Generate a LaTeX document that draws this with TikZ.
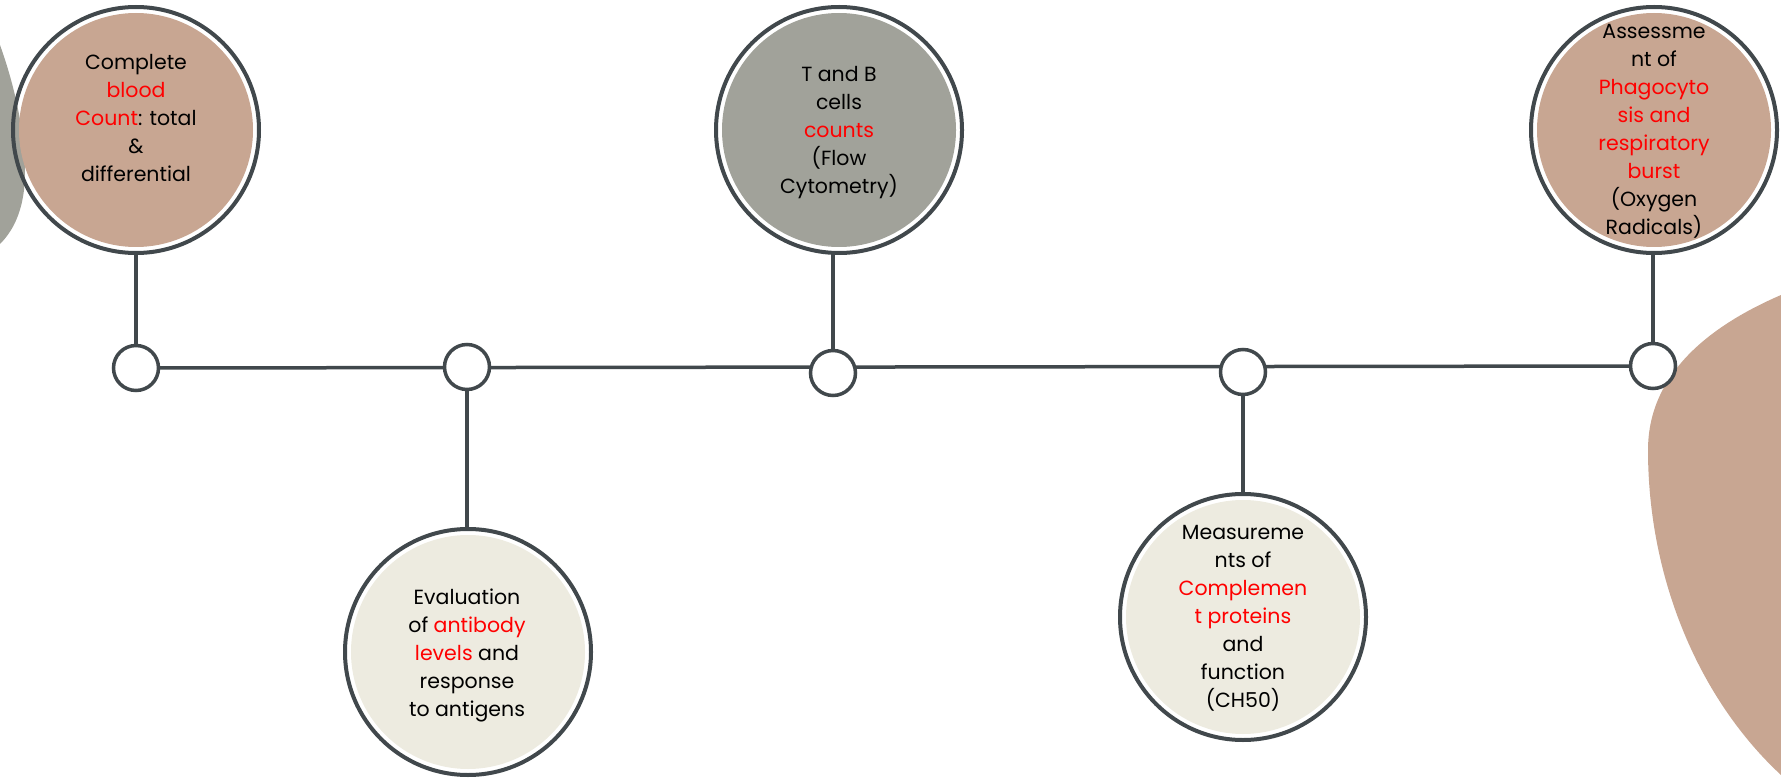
\documentclass[tikz,border=0pt]{standalone}
\usepackage{fontspec}
\setmainfont{Poppins}
\definecolor{ring}{RGB}{65,72,76}
\definecolor{tan}{RGB}{200,166,146}
\definecolor{sage}{RGB}{161,162,154}
\definecolor{cream}{RGB}{237,235,224}
\definecolor{hl}{RGB}{255,0,0}
\tikzset{
  bigcircle/.style={circle, draw=ring, line width=4pt, minimum size=246pt, inner sep=0pt,
    path picture={\fill[#1] (path picture bounding box.center) circle[radius=117pt];}},
  dot/.style={circle, draw=ring, fill=white, line width=3.5pt, minimum size=45pt, inner sep=0pt},
  conn/.style={draw=ring, line width=3.5pt},
  label/.style={align=center, text=black, font=\fontsize{20.5}{28}\selectfont, inner sep=0pt}
}
\newcommand{\hlt}[1]{\textcolor{hl}{#1}}
\begin{document}
\begin{tikzpicture}[x=1pt,y=-1pt]
\useasboundingbox (0,0) rectangle (1781,778);
% background blobs
\fill[sage] (0,45) .. controls (18,95) and (28,150) .. (24,190) .. controls (21,215) and (12,232) .. (0,244) -- cycle;
\fill[tan] (1781,295) .. controls (1700,330) and (1648,380) .. (1648,450) .. controls (1648,580) and (1700,700) .. (1781,775) -- cycle;
% big circles
\node[bigcircle=tan] (b1) at (136,130) {};
\node[bigcircle=sage] (b2) at (839,130) {};
\node[bigcircle=tan] (b3) at (1654,130) {};
\node[bigcircle=cream] (b4) at (468,652) {};
\node[bigcircle=cream] (b5) at (1243,617) {};
% small circle positions
\coordinate (s1) at (136,368);
\coordinate (s2) at (467,367);
\coordinate (s3) at (833,373);
\coordinate (s4) at (1243,372);
\coordinate (s5) at (1653,366);
% connectors
\draw[conn] (s1) -- (s5);
\draw[conn] (s1) -- (s1 |- b1.south);
\draw[conn] (s2) -- (s2 |- b4.north);
\draw[conn] (s3) -- (s3 |- b2.south);
\draw[conn] (s4) -- (s4 |- b5.north);
\draw[conn] (s5) -- (s5 |- b3.south);
\node[dot] (d1) at (s1) {};
\node[dot] (d2) at (s2) {};
\node[dot] (d3) at (s3) {};
\node[dot] (d4) at (s4) {};
\node[dot] (d5) at (s5) {};
% texts
\node[label] (t1) at (136,118) {Complete\\\hlt{blood}\\\hlt{Count}: total\\\&\\differential};
\node[label] (t2) at (839,133) {T and B\\cells\\\hlt{counts}\\(Flow\\Cytometry)};
\node[label] (t3) at (1654,131) {Assessme\\nt of\\\hlt{Phagocyto}\\\hlt{sis and}\\\hlt{respiratory}\\\hlt{burst}\\(Oxygen\\Radicals)};
\node[label] (t4) at (467,655) {Evaluation\\of \hlt{antibody}\\\hlt{levels} and\\response\\to antigens};
\node[label] (t5) at (1243,618) {Measureme\\nts of\\\hlt{Complemen}\\\hlt{t proteins}\\and\\function\\(CH50)};
\end{tikzpicture}
\end{document}
